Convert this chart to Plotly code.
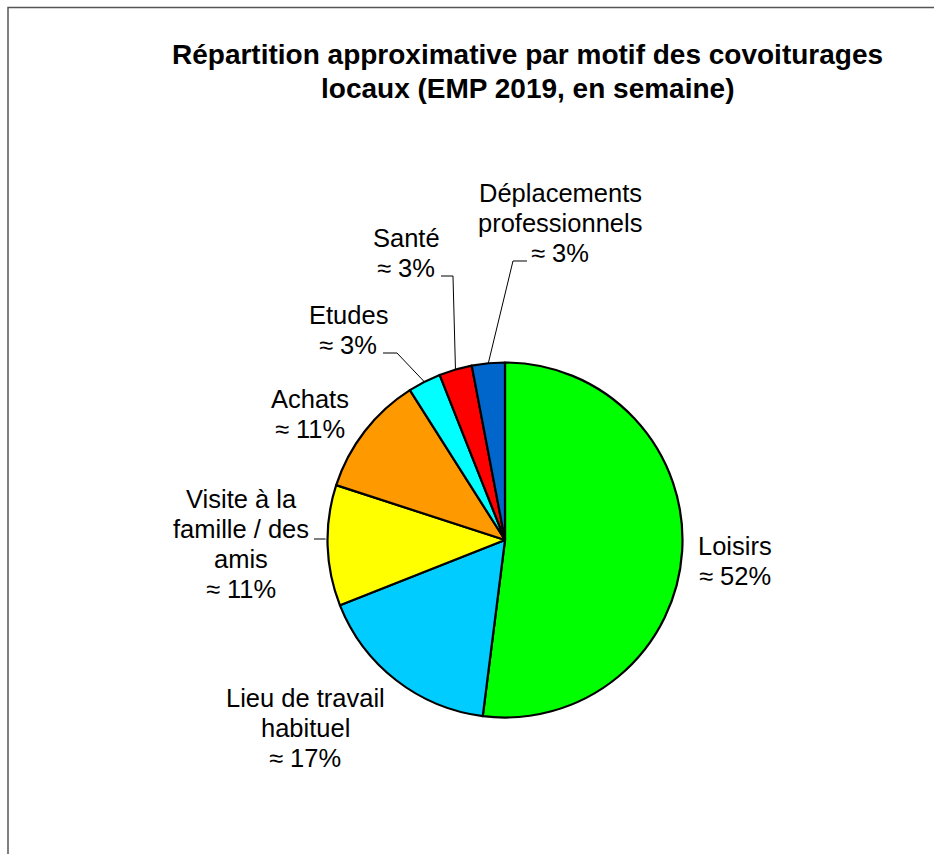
import math
import plotly.graph_objects as go

# Trip purposes and their approximate shares (%)
motifs = ["Loisirs", "Lieu de travail habituel", "Visite à la famille / des amis",
          "Achats", "Etudes", "Santé", "Déplacements professionnels"]
parts = [52, 17, 11, 11, 3, 3, 3]
couleurs = ["#00FF00", "#00CCFF", "#FFFF00", "#FF9900", "#00FFFF", "#FF0000", "#0066CC"]
# Text lines shown for each slice
etiquettes = [["Loisirs"], ["Lieu de travail", "habituel"], ["Visite à la", "famille / des", "amis"],
              ["Achats"], ["Etudes"], ["Santé"], ["Déplacements", "professionnels"]]

titre = ["Répartition approximative par motif des covoiturages",
         "locaux (EMP 2019, en semaine)"]

W, H = 934, 854
CX, CY, R = 505, 540, 177.5      # pie centre and radius, in pixels
FONT = "Liberation Sans, Arial, sans-serif"
LABEL_SIZE, LABEL_STEP = 25.5, 30
TITLE_SIZE, TITLE_STEP = 28, 33

# Label placement (pixel centre of each text block) and optional leader-line elbow
label_pos = [(735, 561), (305, 728), (241, 544), (310, 414), (348, 330), (406, 253), (560, 223)]
leader = [None, None, [(314, 539)], None, [(383, 353), (397, 353)],
          [(441, 276), (453, 276)], [(527, 261), (513, 261)]]


def px(x, y):
    return x / W, 1 - y / H


def text_block(lines, cx, cy, size, step, bold=False):
    out = []
    n = len(lines)
    for k, line in enumerate(lines):
        x, y = px(cx, cy + (k - (n - 1) / 2) * step)
        out.append(dict(
            x=x, y=y, xref="paper", yref="paper", xanchor="center", yanchor="middle",
            text=f"<b>{line}</b>" if bold else line, showarrow=False,
            font=dict(family=FONT, size=size, color="black"),
        ))
    return out


fig = go.Figure(go.Pie(
    labels=motifs, values=parts, sort=False, direction="clockwise", rotation=0,
    marker=dict(colors=couleurs, line=dict(color="black", width=2.2)),
    textinfo="none", hoverinfo="label+percent", showlegend=False,
    domain=dict(x=[(CX - R) / W, (CX + R) / W], y=[1 - (CY + R) / H, 1 - (CY - R) / H]),
))

annotations = []
shapes = []
total = sum(parts)
cum = 0
for i, v in enumerate(parts):
    mid = (cum + v / 2) / total * 2 * math.pi
    cum += v
    pct = round(v / total * 100)
    annotations += text_block(etiquettes[i] + [f"≈ {pct}%"], *label_pos[i], LABEL_SIZE, LABEL_STEP)
    if leader[i]:
        pts = list(leader[i])
        # leader end on the slice edge at its mid-angle
        ex = CX + R * math.sin(mid)
        ey = CY - R * math.cos(mid)
        if len(pts) == 1:
            pts.append((ex - 2, pts[0][1]))
        else:
            pts.append((ex, ey))
        path = "M " + " L ".join(f"{px(a, b)[0]:.5f} {px(a, b)[1]:.5f}" for a, b in pts)
        shapes.append(dict(type="path", xref="paper", yref="paper", path=path,
                           line=dict(color="black", width=1)))

annotations += text_block(titre, 527, 71.5, TITLE_SIZE, TITLE_STEP, bold=True)

# Chart area frame
shapes.append(dict(type="rect", xref="paper", yref="paper",
                   x0=8 / W, x1=1.02, y0=-0.02, y1=1 - 7.5 / H,
                   line=dict(color="#555555", width=1.5)))

fig.update_layout(
    width=W, height=H, margin=dict(l=0, r=0, t=0, b=0),
    paper_bgcolor="white", plot_bgcolor="white",
    annotations=annotations, shapes=shapes,
)

fig.write_html("out.html")
